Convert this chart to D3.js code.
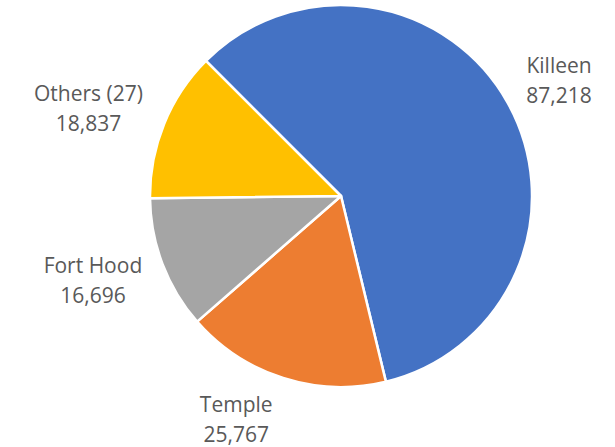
<!DOCTYPE html>
<html>
<head>
<meta charset="utf-8">
<script src="https://cdn.jsdelivr.net/npm/d3@7"></script>
<style>
  html, body { margin: 0; padding: 0; background: #fff; }
  svg { display: block; }
</style>
</head>
<body>
<svg id="chart" width="615" height="447"></svg>
<script>
const categories = ["Killeen", "Temple", "Fort Hood", "Others (27)"];
const values = [87218, 25767, 16696, 18837];
const colors = ["#4472C4", "#ED7D31", "#A5A5A5", "#FFC000"];
const valueLabels = ["87,218", "25,767", "16,696", "18,837"];

const width = 615, height = 447;
const cx = 341, cy = 196, radius = 191;
const startDeg = -45;

const svg = d3.select("#chart");
const g = svg.append("g").attr("transform", `translate(${cx},${cy})`);

const pie = d3.pie()
  .sort(null)
  .value(d => d)
  .startAngle(startDeg * Math.PI / 180)
  .endAngle(startDeg * Math.PI / 180 + 2 * Math.PI);

const arcs = pie(values);
const arc = d3.arc().innerRadius(0).outerRadius(radius);

g.selectAll("path.slice")
  .data(arcs)
  .join("path")
  .attr("class", "slice")
  .attr("d", arc)
  .attr("fill", (d, i) => colors[i])
  .attr("stroke", "#fff")
  .attr("stroke-width", 2.5)
  .attr("stroke-linejoin", "round");

// Label placement: outside the pie along each slice's mid-angle, with small nudges
const labelArc = d3.arc().innerRadius(250).outerRadius(250);
const labelOffsets = [[0, 7], [-29, -14], [-14.5, -4], [-21, 7]];

const labels = svg.append("g")
  .attr("font-family", "'Open Sans', 'Noto Sans', sans-serif")
  .attr("font-size", 21)
  .attr("fill", "#595959")
  .attr("text-anchor", "middle");

arcs.forEach((d, i) => {
  const [x, y] = labelArc.centroid(d);
  const t = labels.append("text")
    .attr("transform", `translate(${cx + x + labelOffsets[i][0]},${cy + y + labelOffsets[i][1]})`);
  t.append("tspan").attr("x", 0).attr("y", -8).text(categories[i]);
  t.append("tspan").attr("x", 0).attr("y", 22).text(valueLabels[i]);
});
</script>
</body>
</html>
